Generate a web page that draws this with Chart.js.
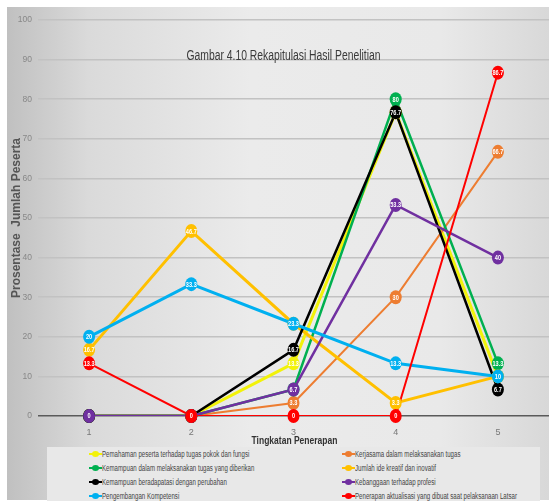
<!DOCTYPE html>
<html>
<head>
<meta charset="utf-8">
<script src="https://cdn.jsdelivr.net/npm/chart.js@4.4.0/dist/chart.umd.min.js"></script>
<style>
  html, body { margin: 0; padding: 0; background: #fff; }
  #wrap { position: relative; width: 549px; height: 504px; overflow: hidden; }
  #bg {
    position: absolute; left: 7px; top: 7px; width: 542px; height: 493px;
    background: linear-gradient(to right, #c0c0c0 0%, #dadada 15%, #ebebeb 45%, #e9e9e9 80%, #d8d8d8 100%);
  }
  #chart { position: absolute; left: 0; top: 0; }
  #legend {
    position: absolute; left: 47px; top: 447px; width: 493px; height: 54px;
    background: #e8e8e8;
    font-family: 'Liberation Sans', Arial, sans-serif;
    font-size: 8.5px; color: #444;
  }
  .item { position: absolute; height: 10px; line-height: 10px; white-space: nowrap; }
  .mk { position: absolute; left: 0; top: 0; width: 13px; height: 10px; }
  .mk .ln { position: absolute; left: 0; top: 4px; width: 13px; height: 2px; }
  .mk .dt { position: absolute; left: 3px; top: 2px; width: 7px; height: 6px; border-radius: 50%; }
  .tx { position: absolute; left: 13px; top: 0; transform: scaleX(0.72); transform-origin: left center; }
</style>
</head>
<body>
<div id="wrap">
  <div id="bg"></div>
  <canvas id="chart" width="549" height="446"></canvas>
  <div id="legend"></div>
</div>
<script>
const categories = ['1', '2', '3', '4', '5'];
const yTicks = [0, 10, 20, 30, 40, 50, 60, 70, 80, 90, 100];

const seriesNames = [
  'Pemahaman peserta terhadap tugas pokok dan fungsi',
  'Kerjasama dalam melaksanakan tugas',
  'Kemampuan dalam melaksanakan tugas yang diberikan',
  'Jumlah ide kreatif dan inovatif',
  'Kemampuan beradapatasi dengan perubahan',
  'Kebanggaan terhadap profesi',
  'Pengembangan Kompetensi',
  'Penerapan aktualisasi yang dibuat saat pelaksanaan Latsar'
];
const seriesColors = ['#f2f20a', '#ed7d31', '#00b050', '#ffc000', '#000000', '#7030a0', '#00b0f0', '#ff0000'];

const pemahaman      = [0, 0, 13.3, 76.7, 10];
const kerjasama      = [0, 0, 3.3, 30, 66.7];
const kemampuanTugas = [0, 0, 6.7, 80, 13.3];
const ideKreatif     = [16.7, 46.7, 23.3, 3.3, 10];
const adaptasi       = [0, 0, 16.7, 76.7, 6.7];
const kebanggaan     = [0, 0, 6.7, 53.3, 40];
const kompetensi     = [20, 33.3, 23.3, 13.3, 10];
const aktualisasi    = [13.3, 0, 0, 0, 86.7];

const seriesValues = [pemahaman, kerjasama, kemampuanTugas, ideKreatif, adaptasi, kebanggaan, kompetensi, aktualisasi];
const lineWidths = [3, 2, 2.5, 3, 2.5, 2.5, 3, 2];

// condensed text helper (no narrow font installed, so squeeze horizontally)
function squeezedText(ctx, text, x, y, font, color, sx) {
  ctx.save();
  ctx.font = font;
  ctx.fillStyle = color;
  ctx.textAlign = 'center';
  ctx.textBaseline = 'middle';
  ctx.translate(x, y);
  ctx.scale(sx, 1);
  ctx.fillText(text, 0, 0);
  ctx.restore();
}

// markers + value labels, drawn in series order so the last series sits on top
const pointLabels = {
  id: 'pointLabels',
  afterDatasetsDraw(chart) {
    const ctx = chart.ctx;
    chart.data.datasets.forEach((ds, i) => {
      const meta = chart.getDatasetMeta(i);
      meta.data.forEach((pt, j) => {
        ctx.save();
        ctx.fillStyle = ds.borderColor;
        ctx.beginPath();
        ctx.ellipse(pt.x, pt.y, 6, 7, 0, 0, Math.PI * 2);
        ctx.fill();
        ctx.restore();
        squeezedText(ctx, String(ds.data[j]), pt.x, pt.y + 0.5, 'bold 7px "Liberation Sans", sans-serif', '#fff', 0.8);
      });
    });
  }
};

const extraText = {
  id: 'extraText',
  afterDraw(chart) {
    const ctx = chart.ctx;
    const a = chart.chartArea;
    squeezedText(ctx, 'Gambar 4.10 Rekapitulasi Hasil Penelitian', (a.left + a.right) / 2 - 10, a.top + 36,
      '14px "Liberation Sans", sans-serif', '#3a3a3a', 0.74);
    squeezedText(ctx, 'Tingkatan Penerapan', (a.left + a.right) / 2 + 1, a.bottom + 25,
      'bold 11.5px "Liberation Sans", sans-serif', '#333', 0.74);
  }
};

new Chart(document.getElementById('chart').getContext('2d'), {
  type: 'line',
  plugins: [pointLabels, extraText],
  data: {
    labels: categories,
    datasets: seriesValues.map((vals, i) => ({
      label: seriesNames[i],
      data: vals,
      borderColor: seriesColors[i],
      backgroundColor: seriesColors[i],
      borderWidth: lineWidths[i],
      pointRadius: 0,
      tension: 0,
      order: seriesValues.length - i
    }))
  },
  options: {
    responsive: false,
    animation: false,
    layout: { padding: { top: 20, right: 0, left: 0, bottom: 0 } },
    plugins: {
      legend: { display: false },
      tooltip: { enabled: false }
    },
    scales: {
      x: {
        offset: true,
        grid: { display: false },
        border: { display: false },
        ticks: {
          color: '#777',
          padding: 3,
          font: { family: 'Liberation Sans', size: 9 }
        },
        afterFit: s => { s.height = 30; }
      },
      y: {
        min: 0,
        max: 100,
        afterBuildTicks: s => { s.ticks = yTicks.map(v => ({ value: v })); },
        grid: {
          color: c => c.tick && c.tick.value === 0 ? '#5a5a5a' : '#c2c2c2',
          lineWidth: 1.5,
          drawTicks: false
        },
        border: { display: false },
        ticks: {
          color: '#888',
          padding: 6,
          font: { family: 'Liberation Sans', size: 8.5 }
        },
        title: {
          display: true,
          text: 'Prosentase  Jumlah Peserta',
          color: '#555',
          padding: { top: 9, bottom: 0 },
          font: { family: 'Liberation Sans', size: 12, weight: 'bold' }
        },
        afterFit: s => { s.width = 38; }
      }
    }
  }
});

// legend as two columns, same order as the reference
const legend = document.getElementById('legend');
const rowsY = [2, 16, 30, 44];
seriesNames.forEach((name, i) => {
  const col = i % 2;
  const row = Math.floor(i / 2);
  const el = document.createElement('div');
  el.className = 'item';
  el.style.left = (col === 0 ? 42 : 295) + 'px';
  el.style.top = rowsY[row] + 'px';
  el.innerHTML = '<span class="mk"><span class="ln" style="background:' + seriesColors[i] +
    '"></span><span class="dt" style="background:' + seriesColors[i] + '"></span></span>' +
    '<span class="tx">' + name + '</span>';
  legend.appendChild(el);
});
</script>
</body>
</html>
